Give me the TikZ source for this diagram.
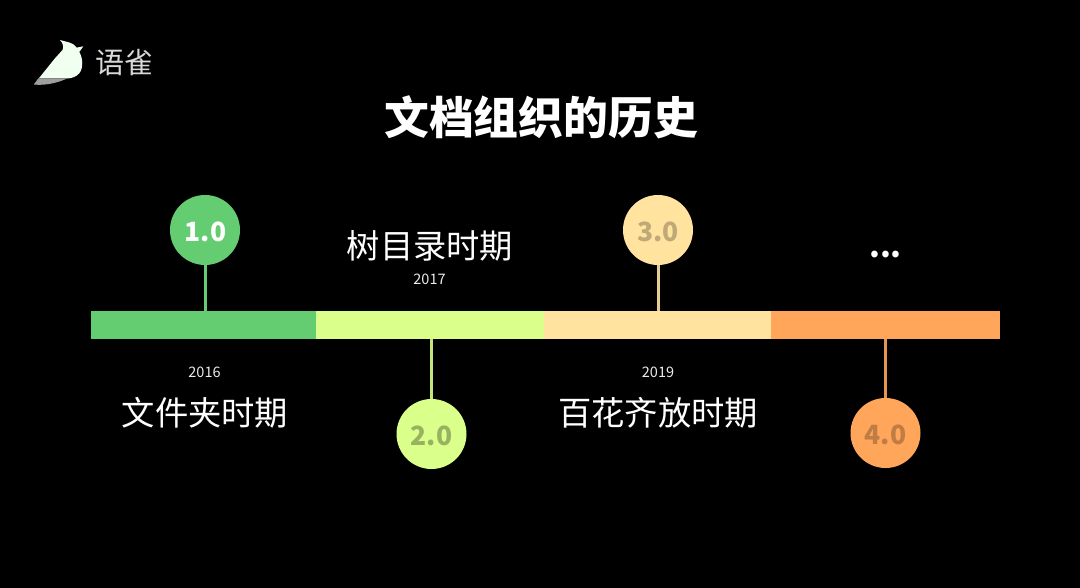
\documentclass[tikz,border=0pt]{standalone}
\usepackage{fontspec}
\setmainfont{Noto Sans CJK SC}
\definecolor{cgreen}{HTML}{64CD72}
\definecolor{clime}{HTML}{DAFF8A}
\definecolor{cyellow}{HTML}{FFE39F}
\definecolor{corange}{HTML}{FFA65A}
\tikzset{
  x=1pt,y=-1pt,
  seg/.style={fill=#1,draw=none,inner sep=0pt,minimum height=28pt,anchor=north west},
  badge/.style={circle,fill=#1,draw=none,minimum size=70pt,inner sep=0pt},
  badgetext/.style={font=\fontsize{26.5}{26.5}\selectfont\bfseries,text=#1},
  stem/.style={draw=#1,line width=3pt},
  period/.style={text=white,inner sep=0pt,font=\fontsize{33.3}{33.3}\selectfont},
  yeartext/.style={text=white!92!black,inner sep=0pt,font=\fontsize{14.5}{14.5}\selectfont},
}
\begin{document}
\begin{tikzpicture}
\fill[black] (0,0) rectangle (1080,588);
\useasboundingbox (0,0) rectangle (1080,588);
% logo
\fill[white!94!green] (60,40) .. controls (66,42) and (73,42) .. (76.8,47.6)
  -- (83.3,46.3) -- (79.3,52) .. controls (83,58) and (83.5,68) .. (79.3,73.3)
  .. controls (76,77) and (72,78) .. (68,78.5) -- (38.5,78.5) -- (34,84.3)
  -- (55,58.3) -- (62.5,50) .. controls (64,47) and (63,43) .. (60,40) -- cycle;
\fill[white!62!black] (34,84.5) -- (38.5,78.5) -- (67,78.5) .. controls (60,82) and (46,86) .. (34,84.5) -- cycle;
\node[text=white!85!black,inner sep=0pt,font=\fontsize{29}{29}\selectfont] (logo) at (124,63) {语雀};
% title
\node[text=white,inner sep=0pt,font=\fontsize{44.8}{44.8}\selectfont\bfseries] (title) at (541,117.5) {文档组织的历史};
% bar
\node[seg=cgreen,minimum width=225pt] (s1) at (91,311) {};
\node[seg=clime,minimum width=228pt] (s2) at (316,311) {};
\node[seg=cyellow,minimum width=227pt] (s3) at (544,311) {};
\node[seg=corange,minimum width=229pt] (s4) at (771,311) {};
% badges
\node[badge=cgreen] (c1) at (205,230) {};
\node[badge=clime] (c2) at (431.5,434) {};
\node[badge=cyellow] (c3) at (658,230) {};
\node[badge=corange] (c4) at (885.5,433) {};
\node[badgetext=white] (t1) at (205.5,231.5) {1.0};
\node[badgetext=clime!70!black] (t2) at (431.5,435.5) {2.0};
\node[badgetext=cyellow!75!black] (t3) at (658,231.5) {3.0};
\node[badgetext=corange!75!black] (t4) at (885.5,434.5) {4.0};
% stems
\draw[stem=cgreen] (c1.south) -- (c1.south |- s1.north);
\draw[stem=clime!90!black] (c2.north) -- (c2.north |- s2.south);
\draw[stem=cyellow!90!black] (c3.south) -- (c3.south |- s3.north);
\draw[stem=corange!90!black] (c4.north) -- (c4.north |- s4.south);
% labels
\node[yeartext] (y1) at (204.5,372) {2016};
\node[period] (p1) at (205,412.5) {文件夹时期};
\node[period] (p2) at (430,246) {树目录时期};
\node[yeartext] (y2) at (429.5,279.5) {2017};
\node[yeartext] (y3) at (658,372) {2019};
\node[period] (p3) at (658,412.5) {百花齐放时期};
\node[text=white,inner sep=0pt,font=\fontsize{31}{31}\selectfont\bfseries] (dots) at (885.5,254.5) {...};
\end{tikzpicture}
\end{document}
